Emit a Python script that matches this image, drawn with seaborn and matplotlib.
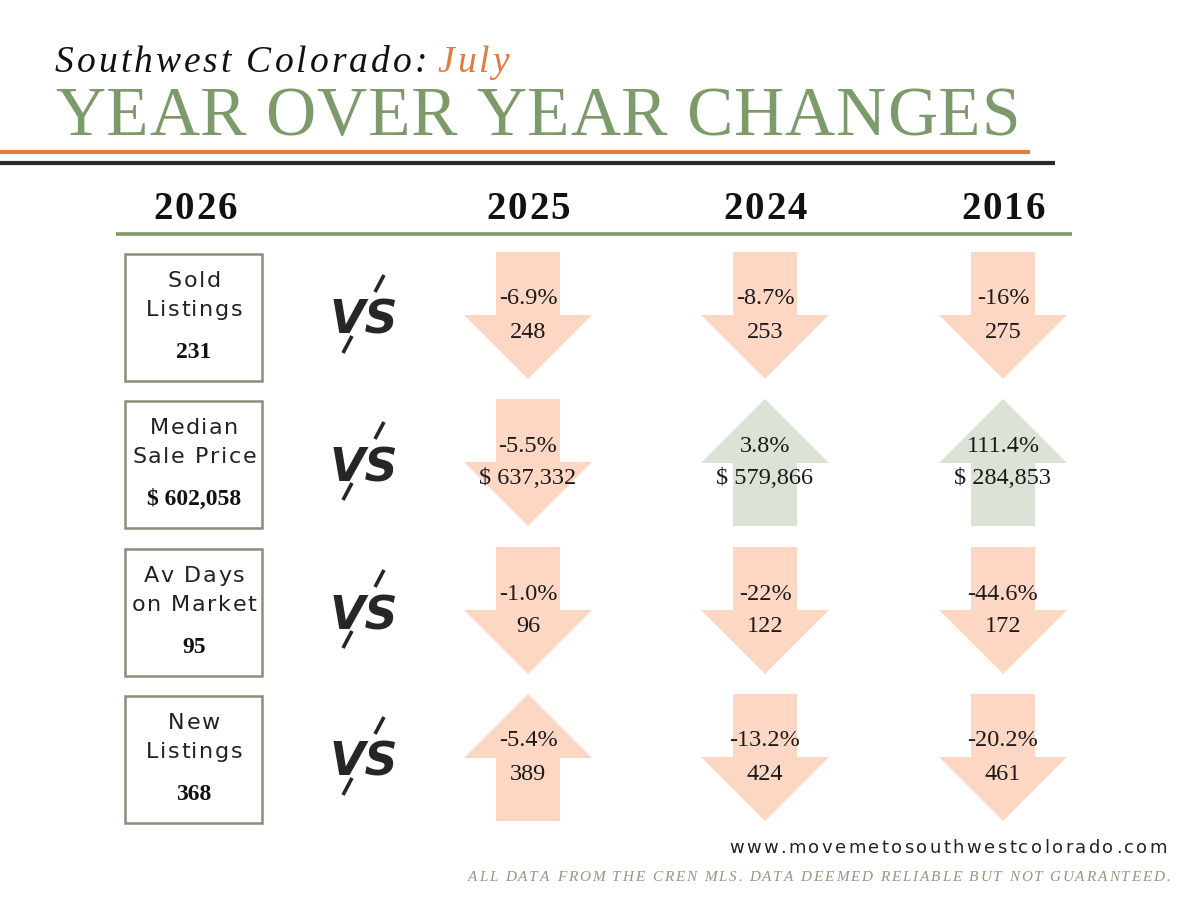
import numpy as np
import pandas as pd
import matplotlib.pyplot as plt
import seaborn as sns
from matplotlib.patches import Polygon, Rectangle

metrics = [["Sold", "Listings"], ["Median", "Sale Price"], ["Av Days", "on Market"], ["New", "Listings"]]
now_2026 = ["231", "$ 602,058", "95", "368"]
years = ["2025", "2024", "2016"]
pct_change = [["-6.9%", "-8.7%", "-16%"],
              ["-5.5%", "3.8%", "111.4%"],
              ["-1.0%", "-22%", "-44.6%"],
              ["-5.4%", "-13.2%", "-20.2%"]]
past_values = [["248", "253", "275"],
               ["$ 637,332", "$ 579,866", "$ 284,853"],
               ["96", "122", "172"],
               ["389", "424", "461"]]
arrow_dir = [["down", "down", "down"],
             ["down", "up", "up"],
             ["down", "down", "down"],
             ["up", "down", "down"]]
arrow_tone = [["red", "red", "red"],
              ["red", "green", "green"],
              ["red", "red", "red"],
              ["red", "red", "red"]]

GREEN = "#7d9a6a"
ORANGE = "#e07a3f"
tone_col = {"red": "#fdd6c4", "green": "#dbe3d6"}

sns.set_theme(style="white")
plt.rcParams['font.family'] = ['Liberation Serif', 'DejaVu Serif']

fig = plt.figure(figsize=(12, 9), dpi=100)
ax = fig.add_axes([0, 0, 1, 1])
ax.set_xlim(0, 1200)
ax.set_ylim(900, 0)
ax.axis('off')
renderer = fig.canvas.get_renderer()


def char_w(s, **kw):
    t = ax.text(0, 0, s, **kw)
    w = t.get_window_extent(renderer).width
    t.remove()
    return w


def spaced(x, y, s, gap, ha='left', **kw):
    # matplotlib has no letter spacing, so put the letters one by one
    sp = char_w('a a', **kw) - char_w('aa', **kw)
    ws = [sp if c == ' ' else char_w(c, **kw) for c in s]
    total = sum(ws) + gap * (len(s) - 1)
    if ha == 'center':
        x -= total / 2
    elif ha == 'right':
        x -= total
    for c, w in zip(s, ws):
        if c != ' ':
            ax.text(x, y, c, ha='left', va='baseline', **kw)
        x += w + gap
    return x


# title
xe = spaced(55, 72, "Southwest Colorado:", 3, fontsize=27, style='italic', color='#111111')
spaced(xe + 8, 72, "July", 3, fontsize=27, style='italic', color=ORANGE)
spaced(55, 135, "YEAR OVER YEAR CHANGES", 0.8, fontsize=50, color=GREEN)

ax.plot([0, 1030], [152, 152], color=ORANGE, lw=3, solid_capstyle='butt')
ax.plot([0, 1055], [163, 163], color='#2b2b2b', lw=3, solid_capstyle='butt')

# column headers
col_x = [528, 765, 1003]
spaced(195, 219, "2026", 2, ha='center', fontsize=28, weight='bold', color='#111111')
for cx, yr in zip(col_x, years):
    spaced(cx, 219, yr, 2, ha='center', fontsize=28, weight='bold', color='#111111')
ax.plot([116, 1072], [234, 234], color=GREEN, lw=2.6, solid_capstyle='butt')

row_top = [252, 399, 547, 694]
shaft, head, head_len, length = 64, 128, 64, 127

for i, top in enumerate(row_top):
    # 2026 box
    ax.add_patch(Rectangle((125, top + 2), 137, 127, fill=False, ec='#8a8f7a', lw=1.8))
    spaced(194, top + 35, metrics[i][0], 1.6, ha='center', fontsize=16,
           family='DejaVu Sans', color='#222222')
    spaced(194, top + 64, metrics[i][1], 1.6, ha='center', fontsize=16,
           family='DejaVu Sans', color='#222222')
    ax.text(194, top + 106, now_2026[i], ha='center', va='baseline', fontsize=17,
            weight='bold', color='#111111')

    # vs mark
    vy = top + 62
    ax.text(364, vy + 20, "VS", ha='center', va='baseline', fontsize=33, family='DejaVu Sans',
            weight='heavy', style='italic', color='#262626')
    ax.plot([375, 384], [vy - 22, vy - 39], color='#262626', lw=2.6, solid_capstyle='butt')
    ax.plot([352, 343], [vy + 22, vy + 39], color='#262626', lw=2.6, solid_capstyle='butt')

    for j, cx in enumerate(col_x):
        if arrow_dir[i][j] == "down":
            pts = [(cx - shaft / 2, top), (cx + shaft / 2, top),
                   (cx + shaft / 2, top + length - head_len), (cx + head / 2, top + length - head_len),
                   (cx, top + length), (cx - head / 2, top + length - head_len),
                   (cx - shaft / 2, top + length - head_len)]
        else:
            pts = [(cx, top), (cx + head / 2, top + head_len), (cx + shaft / 2, top + head_len),
                   (cx + shaft / 2, top + length), (cx - shaft / 2, top + length),
                   (cx - shaft / 2, top + head_len), (cx - head / 2, top + head_len)]
        ax.add_patch(Polygon(pts, closed=True, fc=tone_col[arrow_tone[i][j]], ec='none'))
        ax.text(cx, top + 47, pct_change[i][j], ha='center', va='center', fontsize=17.5, color='#1a1a1a')
        ax.text(cx, top + 80, past_values[i][j], ha='center', va='center', fontsize=17.5, color='#1a1a1a')

# footer
spaced(1167, 853, "www.movemetosouthwestcolorado.com", 2.4, ha='right', fontsize=13,
       family='DejaVu Sans', color='#222222')
spaced(1170, 881, "ALL DATA FROM THE CREN MLS. DATA DEEMED RELIABLE BUT NOT GUARANTEED.", 1.8,
       ha='right', fontsize=11, style='italic', color='#8e9c80')

fig.savefig("out.png", dpi=100)
